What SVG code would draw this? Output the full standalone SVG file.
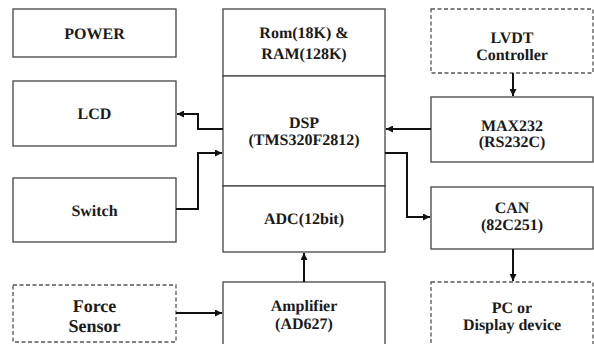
<svg xmlns="http://www.w3.org/2000/svg" width="594" height="344" viewBox="0 0 594 344">
<defs>
<marker id="ah" viewBox="0 0 10 10" refX="10" refY="5" markerWidth="8" markerHeight="7" markerUnits="userSpaceOnUse" orient="auto">
<path d="M0,0 L10,5 L0,10 z" fill="#111"/>
</marker>
</defs>
<style>
.box{fill:#fff;stroke:#444;stroke-width:1.3}
.dash{fill:#fff;stroke:#555;stroke-width:1.3;stroke-dasharray:4 2.5}
.t{font-family:'Liberation Serif','Times New Roman','DejaVu Serif',serif;font-weight:bold;font-size:16px;fill:#1a1a1a;text-anchor:middle;text-rendering:geometricPrecision}
.tl{font-size:18px}
.c{fill:none;stroke:#111;stroke-width:2;marker-end:url(#ah)}
</style>
<rect width="594" height="344" fill="#fff"/>
<g id="power"><rect class="box" x="13" y="9" width="163" height="48"/><text class="t" x="94.5" y="39">POWER</text></g>
<g id="lcd"><rect class="box" x="13" y="81" width="163" height="65"/><text class="t" x="94.5" y="119">LCD</text></g>
<g id="switch"><rect class="box" x="13" y="178" width="163" height="64"/><text class="t" x="94.5" y="216">Switch</text></g>
<g id="force"><rect class="dash" x="13" y="285" width="163" height="57"/><text class="t tl" x="94.5" y="312">Force</text><text class="t tl" x="94.5" y="332">Sensor</text></g>
<g id="mem"><rect class="box" x="223" y="9" width="162" height="67"/><text class="t" x="304" y="38">Rom(18K) &amp;</text><text class="t" x="304" y="59">RAM(128K)</text></g>
<g id="dsp"><rect class="box" x="223" y="76" width="162" height="110"/><text class="t" x="304" y="128">DSP</text><text class="t" x="304" y="145">(TMS320F2812)</text></g>
<g id="adc"><rect class="box" x="223" y="186" width="162" height="66"/><text class="t" x="304" y="224">ADC(12bit)</text></g>
<g id="amp"><rect class="box" x="223" y="282" width="162" height="70"/><text class="t" x="304" y="311">Amplifier</text><text class="t" x="304" y="329">(AD627)</text></g>
<g id="lvdt"><rect class="dash" x="431" y="9" width="162" height="64"/><text class="t" x="512" y="43">LVDT</text><text class="t" x="512" y="60">Controller</text></g>
<g id="max"><rect class="box" x="431" y="97" width="162" height="65"/><text class="t" x="512" y="131">MAX232</text><text class="t" x="512" y="147">(RS232C)</text></g>
<g id="can"><rect class="box" x="431" y="187" width="162" height="62"/><text class="t" x="512" y="213">CAN</text><text class="t" x="512" y="230">(82C251)</text></g>
<g id="pc"><rect class="dash" x="431" y="282" width="162" height="70"/><text class="t" x="512" y="313">PC or</text><text class="t" x="512" y="330">Display device</text></g>
<g id="connectors">
<path class="c" d="M223,129 H198 V114 H177"/>
<path class="c" d="M176,209 H198 V153 H222"/>
<path class="c" d="M431,129 H386"/>
<path class="c" d="M385,153 H407 V217 H430"/>
<path class="c" d="M513,73 V96"/>
<path class="c" d="M513,249 V281"/>
<path class="c" d="M304,282 V253"/>
<path class="c" d="M176,313 H222"/>
</g>
</svg>
